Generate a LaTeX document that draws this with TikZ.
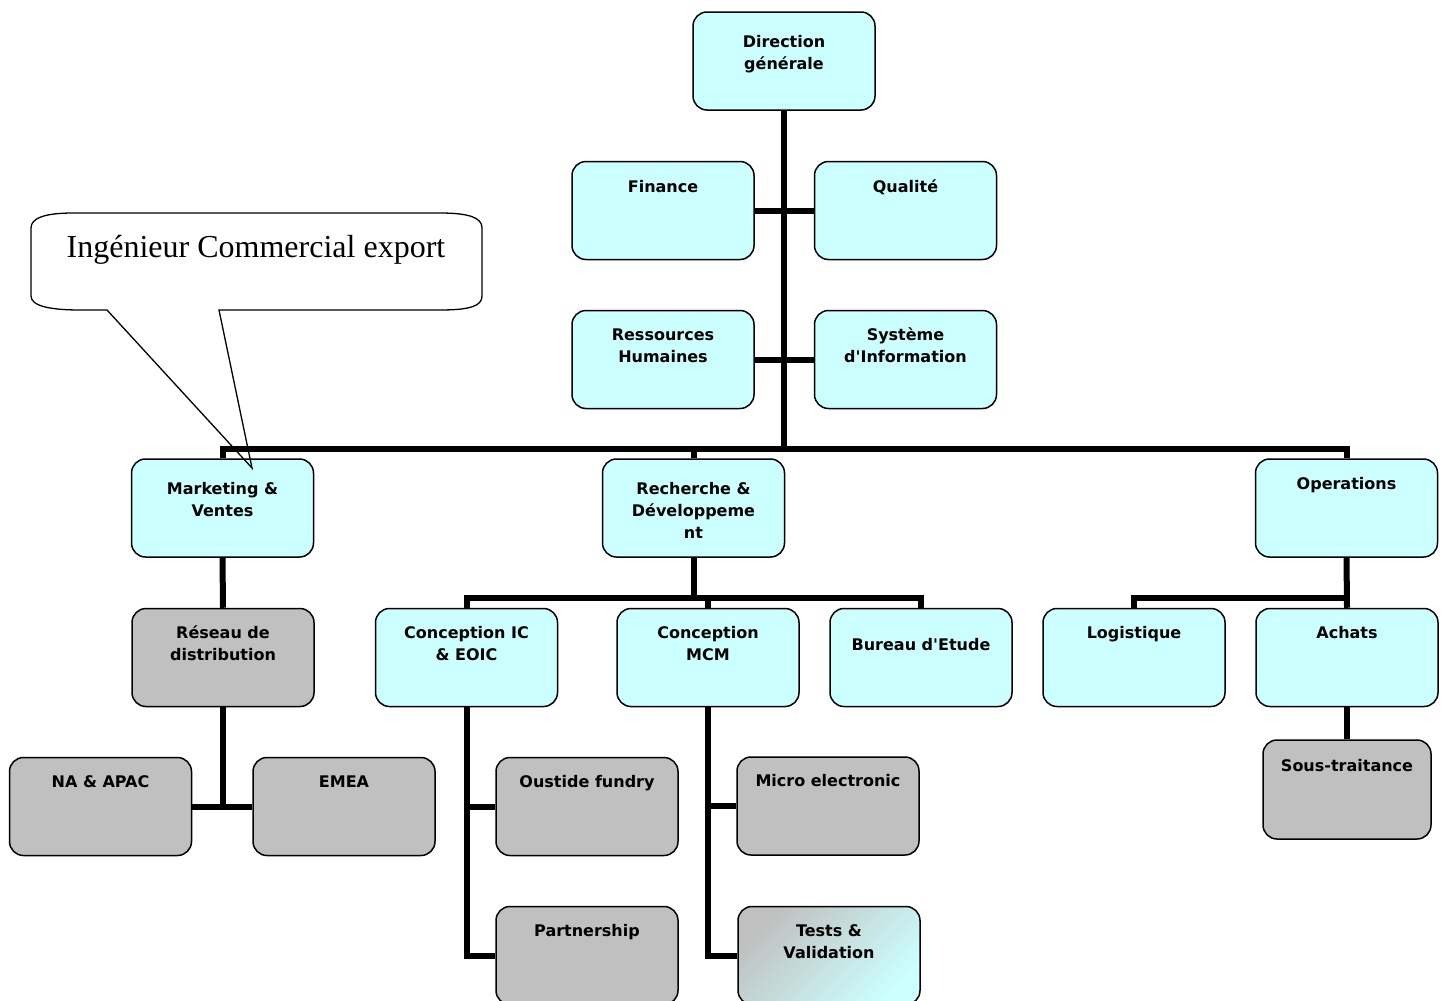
\documentclass[tikz,border=0pt]{standalone}
\usepackage{fontspec}
\newfontfamily\orgfont{DejaVu Sans}
\newfontfamily\callfont{Liberation Serif}
\definecolor{orgcyan}{HTML}{CCFFFF}
\definecolor{orggray}{HTML}{C0C0C0}
\newcommand{\boxtext}[2][30]{\parbox[c][98pt][t]{166pt}{\centering\rule{0pt}{#1pt}#2}}

\begin{document}
\begin{tikzpicture}[x=1pt,y=-1pt,
	unit/.style={draw, line width=1.5pt, rounded corners=14pt, inner sep=0pt,
		minimum width=182pt, minimum height=98pt,
		font=\orgfont\bfseries\fontsize{16}{22}\selectfont},
	cyanunit/.style={unit, fill=orgcyan},
	grayunit/.style={unit, fill=orggray},
	link/.style={line width=6pt, line join=miter}]
			\useasboundingbox (0,0) rectangle (1448,1001);

			\node[cyanunit] (dg) at (784,61) {\boxtext[35]{Direction\\générale}};
			\node[cyanunit] (fin) at (663,210.5) {\boxtext[31]{Finance}};
			\node[cyanunit] (qual) at (905.5,210.5) {\boxtext[31]{Qualité}};
			\node[cyanunit] (rh) at (663,359.5) {\boxtext{Ressources\\Humaines}};
			\node[cyanunit] (si) at (905.5,359.5) {\boxtext{Système\\d\textquotesingle Information}};

			\node[cyanunit] (mkt) at (222.5,508) {\boxtext[35]{Marketing \&\\Ventes}};
			\node[cyanunit] (rd) at (693.5,508) {\boxtext[35]{Recherche \&\\Développeme\\nt}};
			\node[cyanunit] (ops) at (1346.5,508) {\boxtext{Operations}};

			\node[grayunit] (reseau) at (223,657.5) {\boxtext{Réseau de\\distribution}};
			\node[cyanunit] (cic) at (466.5,657.5) {\boxtext{Conception IC\\\& EOIC}};
			\node[cyanunit] (mcm) at (708,657.5) {\boxtext{Conception\\MCM}};
			\node[cyanunit] (be) at (921,657.5) {\boxtext[42]{Bureau d\textquotesingle Etude}};
			\node[cyanunit] (logi) at (1134,657.5) {\boxtext{Logistique}};
			\node[cyanunit] (achats) at (1347,657.5) {\boxtext{Achats}};

			\node[grayunit] (naapac) at (100.5,806.5) {\boxtext{NA \& APAC}};
			\node[grayunit] (emea) at (344,806.5) {\boxtext{EMEA}};
			\node[grayunit] (fundry) at (587,806.5) {\boxtext{Oustide fundry}};
			\node[grayunit] (partner) at (587,955.5) {\boxtext{Partnership}};
			\node[grayunit] (micro) at (828,806) {\boxtext[29]{Micro electronic}};
			\node[unit, left color=orggray, right color=orgcyan, shading angle=45] (tests) at (829,955.5) {\boxtext{Tests \&\\Validation}};
			\node[grayunit, minimum width=168pt, minimum height=99pt] (sst) at (1347,789.5) {\boxtext[31]{Sous-traitance}};

			\coordinate (bar) at (784,449);
			\coordinate (rdbar) at (693.5,598);
			\coordinate (opsbar) at (1346.5,598);

			\draw[link] (dg.south) -- (bar);
			\draw[link] (fin.east) -- (qual.west);
			\draw[link] (rh.east) -- (si.west);
			\draw[link] (mkt.north) -- (mkt.north |- bar) -- (ops.north |- bar) -- (ops.north);
			\draw[link] (rd.north) -- (rd.north |- bar);

			\draw[link] (mkt.south) -- (reseau.north);
			\draw[link] (reseau.south) -- (reseau.south |- naapac.east);
			\draw[link] (naapac.east) -- (emea.west);

			\draw[link] (rd.south) -- (rdbar);
			\draw[link] (cic.north) -- (cic.north |- rdbar) -- (be.north |- rdbar) -- (be.north);
			\draw[link] (mcm.north) -- (mcm.north |- rdbar);
			\draw[link] (cic.south) -- (cic.south |- partner.west) -- (partner.west);
			\draw[link] (fundry.west) -- (fundry.west -| cic.south);
			\draw[link] (mcm.south) -- (mcm.south |- tests.west) -- (tests.west);
			\draw[link] (micro.west) -- (micro.west -| mcm.south);

			\draw[link] (ops.south) -- (achats.north);
			\draw[link] (logi.north) -- (logi.north |- opsbar) -- (opsbar);
			\draw[link] (achats.south) -- (sst.north);

			\draw[line width=1.3pt, line join=miter] (31,228) -- (31,296)
				.. controls (31,306) and (50,310) .. (80,310) -- (107,310) -- (252,468)
				-- (219,310) -- (440,310) .. controls (470,310) and (482,306) .. (482,296)
				-- (482,228) .. controls (482,218) and (470,213) .. (440,213)
				-- (73,213) .. controls (45,213) and (31,218) .. (31,228) -- cycle;
			\node[font=\callfont\fontsize{32}{36}\selectfont, anchor=base] (callout) at (256,257) {Ingénieur Commercial export};
\end{tikzpicture}
\end{document}
